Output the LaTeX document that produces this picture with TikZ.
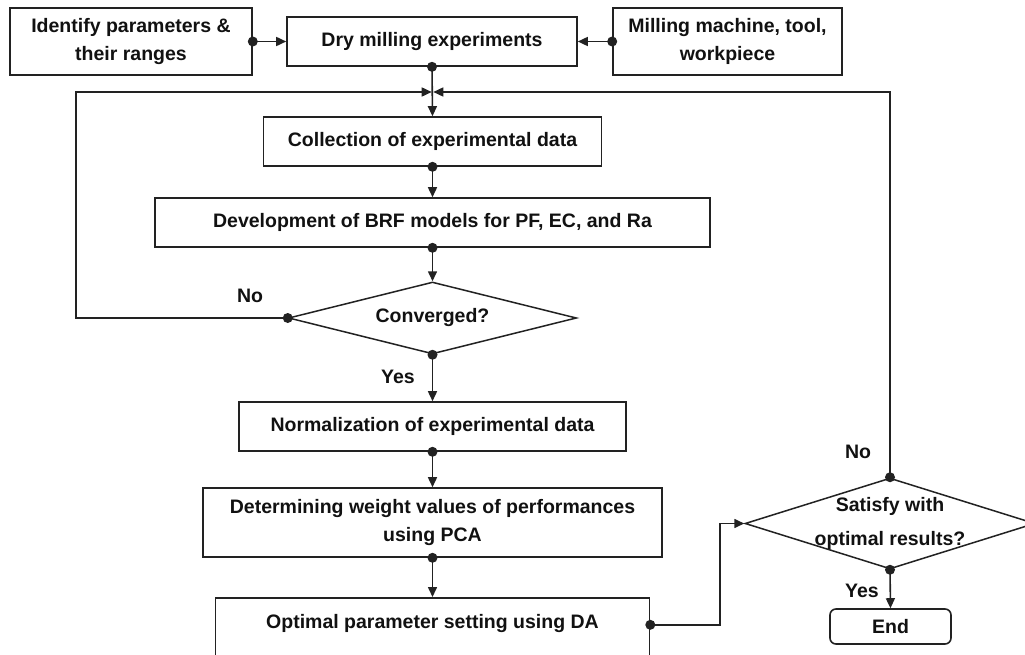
\documentclass[tikz,border=0pt]{standalone}
\usepackage{fontspec}
\setmainfont{Liberation Sans}
\usetikzlibrary{shapes.geometric,arrows.meta}
\definecolor{linec}{HTML}{222222}
\definecolor{txtc}{HTML}{111111}
\newcommand\flowfont{\fontsize{19.5}{28}\selectfont\bfseries}
\newcommand\dotat[1]{\fill[linec] (#1) circle[radius=5pt];}
\tikzset{
  box/.style={draw=linec, line width=1.6pt, fill=white, inner sep=0pt, align=center, font=\flowfont, text=txtc},
  dia/.style={diamond, draw=linec, line width=1.5pt, fill=white, inner sep=-8pt, align=center, font=\flowfont, text=txtc},
  conn/.style={draw=linec, line width=1.6pt, -{Triangle[length=10pt,width=9pt]}},
  lab/.style={font=\flowfont, text=txtc, inner sep=0pt}
}
\begin{document}
\begin{tikzpicture}[x=1pt,y=-1pt]
\useasboundingbox[fill=white] (0,0) rectangle (1025,655);
% nodes
\node[box, minimum width=242, minimum height=67] (id) at (131,41.5) {Identify parameters \&\\their ranges};
\node[box, minimum width=290, minimum height=49] (dry) at (432,41.5) {Dry milling experiments};
\node[box, minimum width=229, minimum height=67] (mach) at (727.5,41.5) {Milling machine, tool,\\workpiece};
\node[box, minimum width=338, minimum height=49] (coll) at (432.5,141.5) {Collection of experimental data};
\node[box, minimum width=555, minimum height=49] (brf) at (432.5,222.5) {Development of BRF models for PF, EC, and Ra};
\node[dia, minimum width=288, minimum height=72, aspect=4] (conv) at (432.5,318) {Converged?};
\node[box, minimum width=387, minimum height=49] (norm) at (432.5,426.5) {Normalization of experimental data};
\node[box, minimum width=459, minimum height=69] (det) at (432.5,522.5) {Determining weight values of performances\\using PCA};
\node[box, minimum width=434, text height=31pt, text depth=44pt, anchor=north] (opt) at (432.5,597) {Optimal parameter setting using DA};
\node[dia, minimum width=290, minimum height=91, aspect=3.2] (sat) at (890,523.5) {Satisfy with\\[6pt]optimal results?};
\node[box, rounded corners=6pt, minimum width=121, minimum height=35] (end) at (890.5,626.5) {End};
% labels
\node[lab] (no1) at (250,296) {No};
\node[lab] (yes1) at (398,377) {Yes};
\node[lab] (no2) at (858,452) {No};
\node[lab] (yes2) at (862,591) {Yes};
% coordinates
\coordinate (J) at (432.5,92);
\coordinate (LL) at (76,92);
\coordinate (optdot) at ([yshift=4pt]opt.base east);
\coordinate (bend) at (720,0);
% connectors
\draw[conn] (id.east) -- (dry.west);
\draw[conn] (mach.west) -- (dry.east);
\draw[conn] (dry.south) -- (coll.north);
\draw[conn] (coll.south) -- (brf.north);
\draw[conn] (brf.south) -- (conv.north);
\draw[conn] (conv.west) -| (LL) -- ([xshift=-0.8pt]J);
\draw[conn] (sat.north) |- ([xshift=0.8pt]J);
\draw[conn] (conv.south) -- (norm.north);
\draw[conn] (norm.south) -- (det.north);
\draw[conn] (det.south) -- (opt.north);
\draw[conn] (optdot) -| (bend |- sat.west) -- (sat.west);
\draw[conn] (sat.south) -- (end.north);
% dots
\dotat{id.east}
\dotat{mach.west}
\dotat{dry.south}
\dotat{coll.south}
\dotat{brf.south}
\dotat{conv.west}
\dotat{conv.south}
\dotat{norm.south}
\dotat{det.south}
\dotat{optdot}
\dotat{sat.north}
\dotat{sat.south}
\end{tikzpicture}
\end{document}
